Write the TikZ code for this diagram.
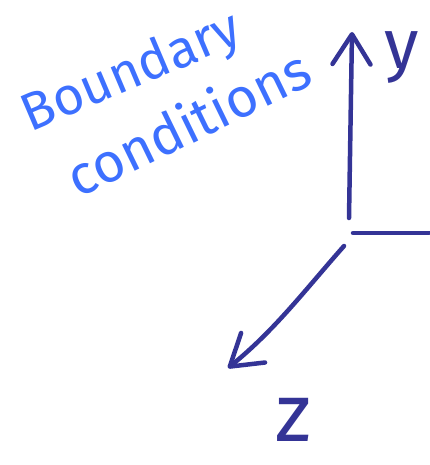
\documentclass[tikz,border=0pt]{standalone}
\usepackage{fontspec}
\setmainfont{Fira Sans}
\usetikzlibrary{arrows.meta}
\definecolor{handblue}{RGB}{61,112,255}
\definecolor{axisblue}{RGB}{52,52,150}
\tikzset{
  axis/.style={draw=axisblue, line width=4.5pt, line cap=round, line join=round},
  tipped/.style={-{Straight Barb[length=30pt,width=38pt,line width=4.5pt,round]}},
  handtext/.style={text=handblue, inner sep=0pt},
  axlabel/.style={text=axisblue, inner sep=0pt}
}
\begin{document}
\begin{tikzpicture}[x=1pt,y=-1pt]
\useasboundingbox (0,0) rectangle (429,465);
\node[handtext, rotate=23, font=\fontsize{53}{56}\selectfont] (boundary) at (132,74) {Boundary};
\node[handtext, rotate=26, font=\fontsize{55}{58}\selectfont] (conditions) at (188,122) {conditions};
\coordinate (yb) at (349,218);
\coordinate (yt) at (352,32);
\coordinate (xb) at (353,233);
\coordinate (xe) at (429,233);
\coordinate (zb) at (344,246);
\coordinate (zt) at (228,368);
\draw[axis,tipped] (yb) -- (yt);
\draw[axis] (xb) -- (xe);
\draw[axis,tipped] (zb) .. controls (305,290) and (275,330) .. (zt);
\node[axlabel, font=\fontsize{70}{72}\selectfont] (ylabel) at (402,58) {y};
\node[axlabel, font=\fontsize{82}{84}\selectfont] (zlabel) at (293,420) {z};
\end{tikzpicture}
\end{document}
